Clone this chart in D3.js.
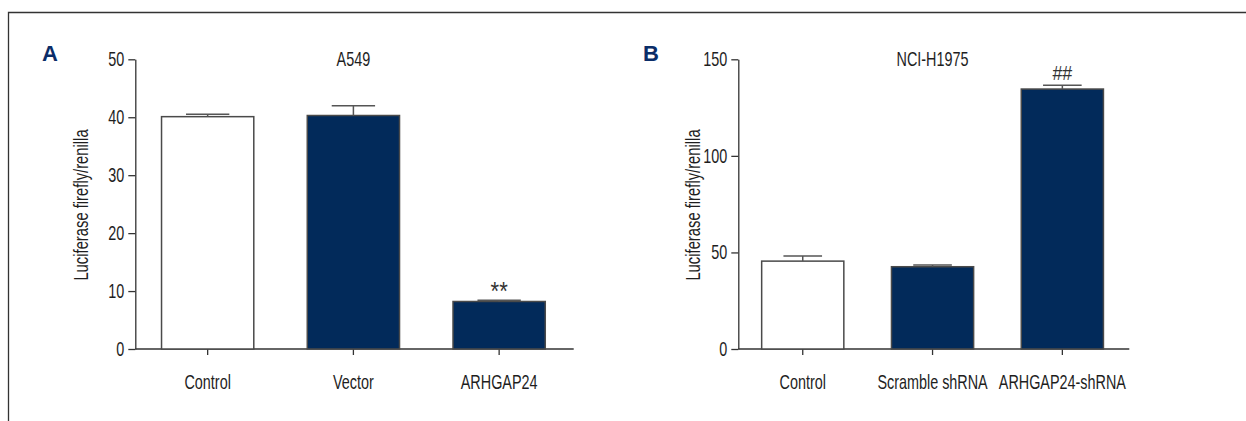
<!DOCTYPE html>
<html lang="en">
  <head>
    <meta charset="utf-8">
    <title>Luciferase assay</title>
    <script src="https://d3js.org/d3.v7.min.js"></script>
    <style>
    body { margin: 0; background: #fff; }
    text { font-family: "Liberation Sans", Arial, sans-serif; fill: #1e1e1e; }
    .axis path, .axis line { stroke: #333; stroke-width: 1.3; }
    .axis text { font-size: 20px; font-family: "Liberation Sans", Arial, sans-serif; fill: #1e1e1e; }
    .panel-label { font-weight: bold; font-size: 22px; fill: #0b2d68; }
    .bar { stroke: #4a4a4a; stroke-width: 1.5; }
    .err { stroke: #555; stroke-width: 1.5; fill: none; }
    </style>
  </head>
  <body>
    <svg width="1246" height="421" id="svg"></svg>
    <script>

    // panel A (A549)
    var catsA = ["Control", "Vector", "ARHGAP24"],
        valsA = [40.1, 40.3, 8.2],
        errA = [0.4, 1.7, 0.2],
        fillA = ["#fff", "#022a5a", "#022a5a"],
        ticksA = [0, 10, 20, 30, 40, 50],
        markA = ["", "", "**"];

    // panel B (NCI-H1975)
    var catsB = ["Control", "Scramble shRNA", "ARHGAP24-shRNA"],
        valsB = [45.5, 42.6, 134.6],
        errB = [2.6, 0.9, 2.0],
        fillB = ["#fff", "#022a5a", "#022a5a"],
        ticksB = [0, 50, 100, 150],
        markB = ["", "", "##"];

    var svg = d3.select("svg");

    // no condensed font installed, so squeeze text sideways around its anchor
    function squeeze(sel, k) {
      sel.each(function() {
        var t = d3.select(this),
            x = +t.attr("x") || 0,
            tr = t.attr("transform") || "";
        t.attr("transform", tr + " translate(" + x + ",0) scale(" + k + ",1) translate(" + (-x) + ",0)");
      });
    }

    // frame (top + left edge)
    svg.append("path")
        .attr("d", "M8.5,421 V12.5 H1246")
        .attr("fill", "none")
        .attr("stroke", "#333")
        .attr("stroke-width", 1.3);

    function panel(o) {
      var x = d3.scaleBand().domain(o.cats).range([o.x0, o.x1]).paddingInner(0.367).paddingOuter(0.18),
          y = d3.scaleLinear().domain([0, o.max]).range([349, 59.3]);

      var g = svg.append("g");

      var xa = g.append("g")
          .attr("class", "axis")
          .attr("transform", "translate(0,349)")
          .call(d3.axisBottom(x).tickSize(6).tickSizeOuter(0));
      xa.selectAll("text").attr("dy", "1.55em");
      xa.select(".domain").attr("d", "M" + o.x0 + ",0H" + o.axEnd);
      squeeze(xa.selectAll("text"), 0.72);

      var ya = g.append("g")
          .attr("class", "axis")
          .attr("transform", "translate(" + o.x0 + ",0)")
          .call(d3.axisLeft(y).tickValues(o.ticks).tickSize(7).tickPadding(4).tickSizeOuter(0));
      squeeze(ya.selectAll("text"), 0.72);

      g.selectAll(".bar")
        .data(o.vals)
        .enter().append("rect")
          .attr("class", "bar")
          .attr("x", function(d, i) { return x(o.cats[i]); })
          .attr("y", function(d) { return y(d); })
          .attr("width", x.bandwidth())
          .attr("height", function(d) { return 349 - y(d); })
          .attr("fill", function(d, i) { return o.fills[i]; });

      var cap = x.bandwidth() * 0.47;
      g.selectAll(".err")
        .data(o.vals)
        .enter().append("path")
          .attr("class", "err")
          .attr("d", function(d, i) {
            var cx = x(o.cats[i]) + x.bandwidth() / 2,
                top = y(d + o.errs[i]);
            return "M" + cx + "," + y(d) + "V" + top + "M" + (cx - cap / 2) + "," + top + "H" + (cx + cap / 2);
          });

      // asterisks sit high in the glyph box, hashes do not
      var marks = g.selectAll(".mark")
        .data(o.marks)
        .enter().append("text")
          .attr("x", function(d, i) { return x(o.cats[i]) + x.bandwidth() / 2; })
          .attr("y", function(d, i) { return y(o.vals[i] + o.errs[i]) - (d.indexOf("*") >= 0 ? 0 : 5); })
          .attr("text-anchor", "middle")
          .style("font-size", function(d) { return d.indexOf("*") >= 0 ? "26px" : "21px"; })
          .style("fill", "#333")
          .text(function(d) { return d; });
      squeeze(marks, 0.85);

      var title = g.append("text")
          .attr("x", (o.x0 + o.x1) / 2)
          .attr("y", 66.5)
          .attr("text-anchor", "middle")
          .style("font-size", "20px")
          .text(o.title);
      squeeze(title, 0.72);

      var ylab = g.append("text")
          .attr("transform", "translate(" + o.labX + ",205) rotate(-90)")
          .attr("text-anchor", "middle")
          .attr("dy", "0.35em")
          .style("font-size", "20px")
          .text("Luciferase firefly/renilla");
      squeeze(ylab, 0.74);

      g.append("text")
          .attr("class", "panel-label")
          .attr("x", o.pX)
          .attr("y", 61)
          .text(o.label);
    }

    panel({cats: catsA, vals: valsA, errs: errA, fills: fillA, ticks: ticksA, marks: markA, max: 50,
           x0: 135.3, x1: 571.5, axEnd: 573.7, title: "A549", labX: 81, pX: 42, label: "A"});
    panel({cats: catsB, vals: valsB, errs: errB, fills: fillB, ticks: ticksB, marks: markB, max: 150,
           x0: 738.3, x1: 1126.8, axEnd: 1129.3, title: "NCI-H1975", labX: 693, pX: 643, label: "B"});

    </script>
  </body>
</html>
